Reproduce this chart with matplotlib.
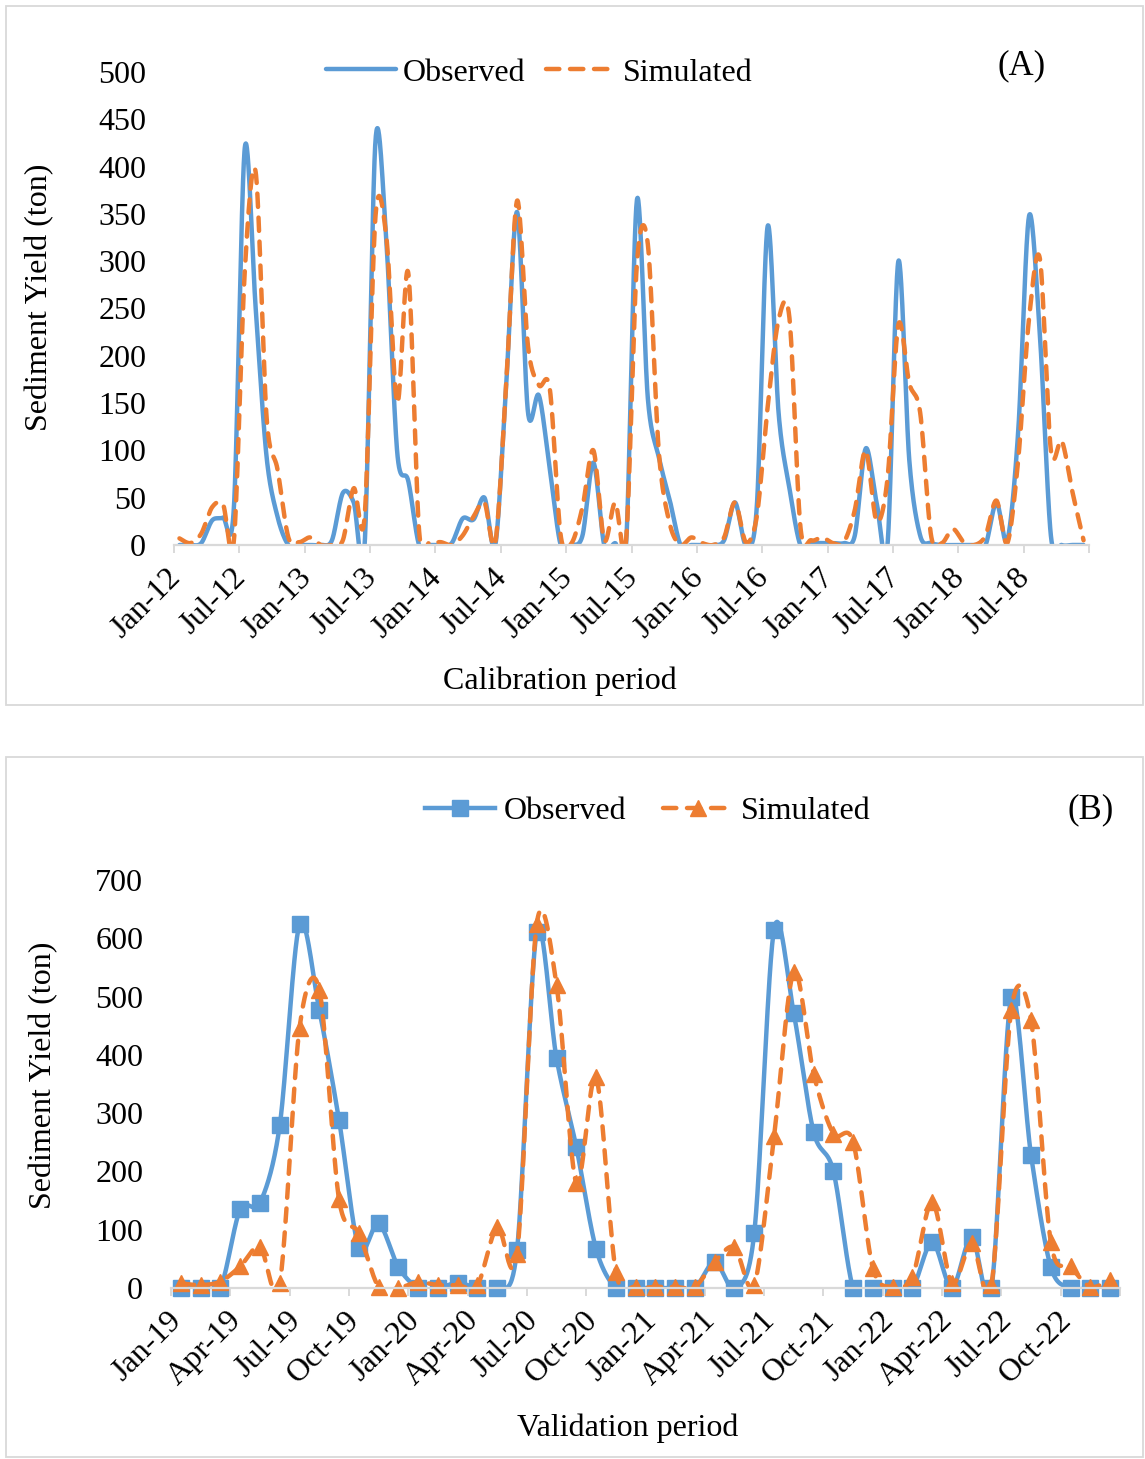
import numpy as np
import matplotlib
matplotlib.use("Agg")
import matplotlib.pyplot as plt
import matplotlib.transforms as mtransforms
from matplotlib.lines import Line2D
from matplotlib.patches import Rectangle

# ---------------- data ----------------
# (A) Calibration period, monthly Jan-2012 .. Dec-2018
cal_labels = ["Jan-12", "Jul-12", "Jan-13", "Jul-13", "Jan-14", "Jul-14", "Jan-15",
              "Jul-15", "Jan-16", "Jul-16", "Jan-17", "Jul-17", "Jan-18", "Jul-18"]
cal_observed = [0, 0, 2, 26, 29, 40, 420, 250, 93, 30, 0, 0,
                0, 0, 5, 55, 45, 0, 428, 320, 97, 68, 0, 0,
                0, 2, 28, 27, 50, 0, 170, 352, 140, 158, 80, 0,
                0, 10, 87, 0, 2, 0, 365, 155, 93, 48, 0, 0,
                0, 0, 5, 45, 0, 40, 337, 140, 60, 0, 2, 2,
                2, 2, 10, 102, 45, 0, 300, 90, 10, 2, 0, 0,
                0, 0, 0, 45, 5, 120, 348, 220, 10, 0, 0, 0]
cal_simulated = [7, 2, 12, 40, 43, 5, 290, 394, 135, 80, 8, 3,
                 8, 0, 0, 5, 60, 30, 348, 325, 150, 288, 15, 3,
                 3, 0, 10, 30, 45, 3, 170, 364, 210, 169, 165, 10,
                 2, 40, 100, 5, 45, 5, 298, 318, 100, 23, 0, 8,
                 2, 0, 8, 45, 3, 30, 146, 238, 240, 20, 5, 8,
                 2, 3, 37, 100, 25, 70, 233, 171, 140, 10, 2, 17,
                 3, 0, 10, 47, 2, 90, 240, 302, 100, 110, 55, 5]

# (B) Validation period, monthly Jan-2019 .. Dec-2022
val_labels = ["Jan-19", "Apr-19", "Jul-19", "Oct-19", "Jan-20", "Apr-20", "Jul-20", "Oct-20",
              "Jan-21", "Apr-21", "Jul-21", "Oct-21", "Jan-22", "Apr-22", "Jul-22", "Oct-22"]
val_observed = [0, 0, 0, 135, 146, 279, 624, 477, 288, 69, 111, 36,
                0, 0, 9, 0, 0, 65, 611, 394, 242, 67, 0, 0,
                0, 0, 0, 45, 0, 94, 615, 471, 268, 201, 0, 0,
                0, 0, 79, 0, 88, 0, 499, 228, 36, 0, 0, 0]
val_simulated = [8, 5, 11, 37, 71, 8, 446, 512, 152, 94, 2, 0,
                 10, 5, 5, 5, 105, 58, 625, 520, 180, 362, 28, 2,
                 2, 2, 2, 45, 70, 5, 260, 543, 368, 265, 251, 34,
                 2, 19, 148, 8, 77, 5, 477, 460, 79, 37, 2, 14]

BLUE = "#5B9BD5"
ORANGE = "#ED7D31"
GRAY = "#D9D9D9"

plt.rcParams["font.family"] = ["Liberation Serif", "DejaVu Serif"]

W, H = 1145, 1459
fig = plt.figure(figsize=(W / 100, H / 100), dpi=100)


def fx(px):
    return px / W


def fy(py):
    return 1 - py / H


def smooth(y, k=1 / 6.5):
    """Excel-like smoothed line (Catmull-Rom Bezier) through the data points."""
    x = np.arange(len(y), dtype=float)
    P = np.column_stack([x, np.asarray(y, float)])
    E = np.vstack([P[0], P, P[-1]])
    t = np.linspace(0, 1, 30, endpoint=False)[:, None]
    segs = []
    for i in range(len(P) - 1):
        p0, p1, p2, p3 = E[i], E[i + 1], E[i + 2], E[i + 3]
        c1 = p1 + (p2 - p0) * k
        c2 = p2 - (p3 - p1) * k
        segs.append((1 - t) ** 3 * p1 + 3 * (1 - t) ** 2 * t * c1
                    + 3 * (1 - t) * t ** 2 * c2 + t ** 3 * p2)
    segs.append(P[-1:])
    S = np.vstack(segs)
    return S[:, 0], S[:, 1]


FS = 23
LW = 3.2
DASH = (3.0, 2.4)


def style_axes(ax, n, ymax, ystep, labels, step):
    ax.set_xlim(-0.5, n - 0.5)
    ax.set_ylim(0, ymax)
    ax.set_yticks(np.arange(0, ymax + 1, ystep))
    for s in ["top", "right", "left"]:
        ax.spines[s].set_visible(False)
    ax.spines["bottom"].set_color(GRAY)
    ax.spines["bottom"].set_linewidth(1.6)
    ax.tick_params(axis="y", length=0, pad=20, labelsize=FS)
    ax.set_xticks(np.arange(-0.5, n, step))
    ax.set_xticklabels([])
    ax.tick_params(axis="x", which="major", length=6, width=1.4, color=GRAY, direction="out")
    ax.set_xticks(np.arange(0, n, step), minor=True)
    ax.set_xticklabels(labels, minor=True, rotation=45, ha="right", va="top",
                       fontsize=FS)
    ax.tick_params(axis="x", which="minor", length=0, pad=13)
    off = mtransforms.ScaledTranslation(7 / 100, 0, fig.dpi_scale_trans)
    for lab in ax.get_xticklabels(minor=True):
        lab.set_transform(lab.get_transform() + off)
    ax.patch.set_alpha(0)


# ---------------- panel borders ----------------
for (x0, y0, x1, y1) in [(6, 6, 1143, 705), (6, 757, 1143, 1457)]:
    fig.patches.append(Rectangle((fx(x0), fy(y1)), fx(x1 - x0), (y1 - y0) / H,
                                 transform=fig.transFigure, fill=False,
                                 ec=GRAY, lw=1.3))

# ---------------- (A) ----------------
axA = fig.add_axes([fx(174), fy(545), fx(1089 - 174), (545 - 72) / H])
style_axes(axA, len(cal_observed), 500, 50, cal_labels, 6)
xs, ys = smooth(cal_observed)
axA.plot(xs, ys, color=BLUE, lw=LW, solid_capstyle="round", solid_joinstyle="round")
xs, ys = smooth(cal_simulated)
axA.plot(xs, ys, color=ORANGE, lw=LW, ls=(0, DASH), dash_capstyle="round")

hA = [Line2D([], [], color=BLUE, lw=LW, solid_capstyle="round"),
      Line2D([], [], color=ORANGE, lw=LW, ls=(0, DASH), dash_capstyle="round")]
fig.legend(hA, ["Observed", "Simulated"], loc="center",
           bbox_to_anchor=(fx(539), fy(73)), ncol=2, frameon=False, fontsize=FS,
           handlelength=2.2, handletextpad=0.2, columnspacing=0.65)
fig.text(fx(1022), fy(66), "(A)", ha="center", va="center", fontsize=25)
fig.text(fx(40), fy(297), "Sediment Yield (ton)", rotation=90, ha="center",
         va="center", fontsize=FS)
fig.text(fx(560), fy(681), "Calibration period", ha="center", va="center", fontsize=FS)

# ---------------- (B) ----------------
axB = fig.add_axes([fx(171), fy(1288), fx(1120 - 171), (1288 - 880) / H])
nB = len(val_observed)
style_axes(axB, nB, 700, 100, val_labels, 3)
xv = np.arange(nB)
xs, ys = smooth(val_observed)
axB.plot(xs, ys, color=BLUE, lw=LW, solid_capstyle="round", solid_joinstyle="round")
axB.plot(xv, val_observed, ls="none", marker="s", ms=11.5, color=BLUE, clip_on=False)
xs, ys = smooth(val_simulated)
axB.plot(xs, ys, color=ORANGE, lw=LW, ls=(0, DASH), dash_capstyle="round")
axB.plot(xv, val_simulated, ls="none", marker="^", ms=11, color=ORANGE, clip_on=False)

hB = [Line2D([], [], color=BLUE, lw=LW, marker="s", ms=11.5),
      Line2D([], [], color=ORANGE, lw=LW, ls=(0, DASH), dash_capstyle="round",
             marker="^", ms=11)]
fig.legend(hB, ["Observed", "Simulated"], loc="center",
           bbox_to_anchor=(fx(648), fy(811)), ncol=2, frameon=False, fontsize=FS,
           handlelength=2.2, handletextpad=0.25, columnspacing=1.15, numpoints=1)
fig.text(fx(1091), fy(810), "(B)", ha="center", va="center", fontsize=25)
fig.text(fx(44), fy(1075), "Sediment Yield (ton)", rotation=90, ha="center",
         va="center", fontsize=FS)
fig.text(fx(628), fy(1428), "Validation period", ha="center", va="center", fontsize=FS)

fig.savefig("out.png", dpi=100)
